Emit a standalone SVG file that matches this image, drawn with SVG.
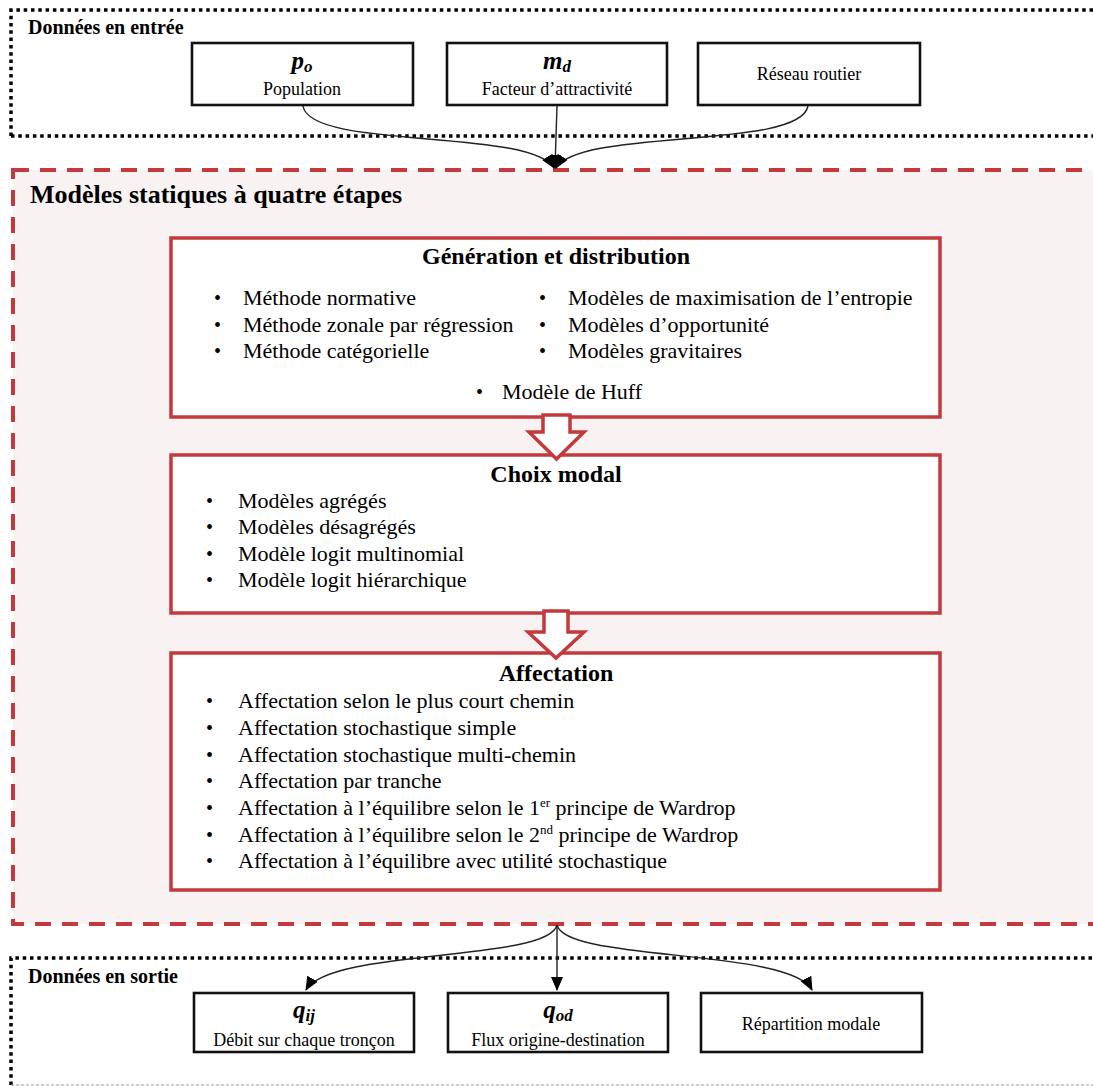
<svg xmlns="http://www.w3.org/2000/svg" width="1093" height="1086" viewBox="0 0 1093 1086">
<defs>
<style>
text{font-family:"Liberation Serif","Times New Roman",serif;fill:#000}
.b{font-weight:bold}
.math{font-weight:bold;font-style:italic;font-size:25px}
.sec{font-size:20px;font-weight:bold}
.title{font-size:24px;font-weight:bold}
.body{font-size:22px}
.bul{font-size:20px}
.small{font-size:18px}
.redbox{fill:#fff;stroke:#c4393c;stroke-width:3.5}
.blkbox{fill:#fff;stroke:#111;stroke-width:2.6}
.dotted{fill:none;stroke:#000;stroke-width:3.5;stroke-dasharray:3.5 3.8}
.reddash{fill:#f9f2f2;stroke:#c4393c;stroke-width:4;stroke-dasharray:16 11}
.conn{fill:none;stroke:#222;stroke-width:1.4}
.hollow{fill:#fff;stroke:#c4393c;stroke-width:3.5;stroke-linejoin:miter}
</style>
<marker id="ah" markerWidth="14" markerHeight="12" refX="13" refY="6" orient="auto" markerUnits="userSpaceOnUse">
<path d="M0,0 L14,6 L0,12 z" fill="#000"/>
</marker>
</defs>
<rect width="1093" height="1086" fill="#fff"/>

<g id="input-section">
<path class="dotted" d="M11,136 L11,10 L1100,10 M11,136 L1100,136"/>
<text class="sec" x="28" y="34">Données en entrée</text>
</g>

<g id="node-po">
<rect class="blkbox" x="192" y="43" width="221" height="62"/>
<text class="math" x="302" y="69" text-anchor="middle">p<tspan font-size="17" dy="3">o</tspan></text>
<text class="small" x="302" y="95" text-anchor="middle">Population</text>
</g>

<g id="node-md">
<rect class="blkbox" x="447" y="43" width="220" height="62"/>
<text class="math" x="557" y="69" text-anchor="middle">m<tspan font-size="17" dy="3">d</tspan></text>
<text class="small" x="557" y="95" text-anchor="middle">Facteur d’attractivité</text>
</g>

<g id="node-reseau">
<rect class="blkbox" x="698" y="43" width="222" height="62"/>
<text class="small" x="809" y="80" text-anchor="middle" font-size="19">Réseau routier</text>
</g>

<g id="models-section">
<rect class="reddash" x="13" y="170" width="1100" height="754"/>
<text class="b" x="30" y="203" font-size="26">Modèles statiques à quatre étapes</text>
</g>

<g id="node-generation">
<rect class="redbox" x="171" y="238" width="769" height="179"/>
<text class="title" x="556" y="264" text-anchor="middle">Génération et distribution</text>
<text class="bul" x="214" y="305">•</text><text class="body" x="243" y="305">Méthode normative</text>
<text class="bul" x="214" y="332">•</text><text class="body" x="243" y="332">Méthode zonale par régression</text>
<text class="bul" x="214" y="358">•</text><text class="body" x="243" y="358">Méthode catégorielle</text>
<text class="bul" x="539" y="305">•</text><text class="body" x="568" y="305">Modèles de maximisation de l’entropie</text>
<text class="bul" x="539" y="332">•</text><text class="body" x="568" y="332">Modèles d’opportunité</text>
<text class="bul" x="539" y="358">•</text><text class="body" x="568" y="358">Modèles gravitaires</text>
<text class="bul" x="476" y="399">•</text><text class="body" x="502" y="399">Modèle de Huff</text>
</g>

<g id="node-choix">
<rect class="redbox" x="171" y="455" width="769" height="158"/>
<text class="title" x="556" y="482" text-anchor="middle">Choix modal</text>
<text class="bul" x="206" y="508">•</text><text class="body" x="238" y="508">Modèles agrégés</text>
<text class="bul" x="206" y="534">•</text><text class="body" x="238" y="534">Modèles désagrégés</text>
<text class="bul" x="206" y="561">•</text><text class="body" x="238" y="561">Modèle logit multinomial</text>
<text class="bul" x="206" y="587">•</text><text class="body" x="238" y="587">Modèle logit hiérarchique</text>
</g>

<g id="node-affectation">
<rect class="redbox" x="171" y="653" width="769" height="237"/>
<text class="title" x="556" y="681" text-anchor="middle">Affectation</text>
<text class="bul" x="206" y="708">•</text><text class="body" x="238" y="708">Affectation selon le plus court chemin</text>
<text class="bul" x="206" y="735">•</text><text class="body" x="238" y="735">Affectation stochastique simple</text>
<text class="bul" x="206" y="762">•</text><text class="body" x="238" y="762">Affectation stochastique multi-chemin</text>
<text class="bul" x="206" y="788">•</text><text class="body" x="238" y="788">Affectation par tranche</text>
<text class="bul" x="206" y="815">•</text><text class="body" x="238" y="815">Affectation à l’équilibre selon le 1<tspan font-size="13" dy="-8">er</tspan><tspan dy="8"> principe de Wardrop</tspan></text>
<text class="bul" x="206" y="842">•</text><text class="body" x="238" y="842">Affectation à l’équilibre selon le 2<tspan font-size="13" dy="-8">nd</tspan><tspan dy="8"> principe de Wardrop</tspan></text>
<text class="bul" x="206" y="868">•</text><text class="body" x="238" y="868">Affectation à l’équilibre avec utilité stochastique</text>
</g>

<g id="output-section">
<path class="dotted" d="M11,1085 L11,958 L1100,958"/>
<line x1="11" y1="1085" x2="1093" y2="1085" stroke="#999" stroke-width="1" stroke-dasharray="3 2"/>
<text class="sec" x="28" y="983">Données en sortie</text>
</g>

<g id="node-qij">
<rect class="blkbox" x="194" y="993" width="220" height="59"/>
<text class="math" x="304" y="1018" text-anchor="middle">q<tspan font-size="17" dy="3">ij</tspan></text>
<text class="small" x="304" y="1046" text-anchor="middle">Débit sur chaque tronçon</text>
</g>

<g id="node-qod">
<rect class="blkbox" x="448" y="993" width="220" height="59"/>
<text class="math" x="558" y="1018" text-anchor="middle">q<tspan font-size="17" dy="3">od</tspan></text>
<text class="small" x="558" y="1046" text-anchor="middle">Flux origine-destination</text>
</g>

<g id="node-repartition">
<rect class="blkbox" x="701" y="993" width="221" height="59"/>
<text class="small" x="811" y="1030" text-anchor="middle" font-size="19">Répartition modale</text>
</g>

<g id="connectors">
<path class="conn" d="M303,106 C310,150 530,128 554,168" marker-end="url(#ah)"/>
<path class="conn" d="M557,106 L555,168" marker-end="url(#ah)"/>
<path class="conn" d="M808,106 C800,150 580,128 556,168" marker-end="url(#ah)"/>
<path class="hollow" d="M543,415 L570,415 L570,432 L584,432 L556.5,459 L529,432 L543,432 Z"/>
<path class="hollow" d="M544,611 L568,611 L568,632 L584,632 L556,658 L528,632 L544,632 Z"/>
<path class="conn" d="M557,925 C548,962 330,948 306,990" marker-end="url(#ah)"/>
<path class="conn" d="M557,925 L557,990" marker-end="url(#ah)"/>
<path class="conn" d="M557,925 C566,962 790,948 812,990" marker-end="url(#ah)"/>
</g>
</svg>
